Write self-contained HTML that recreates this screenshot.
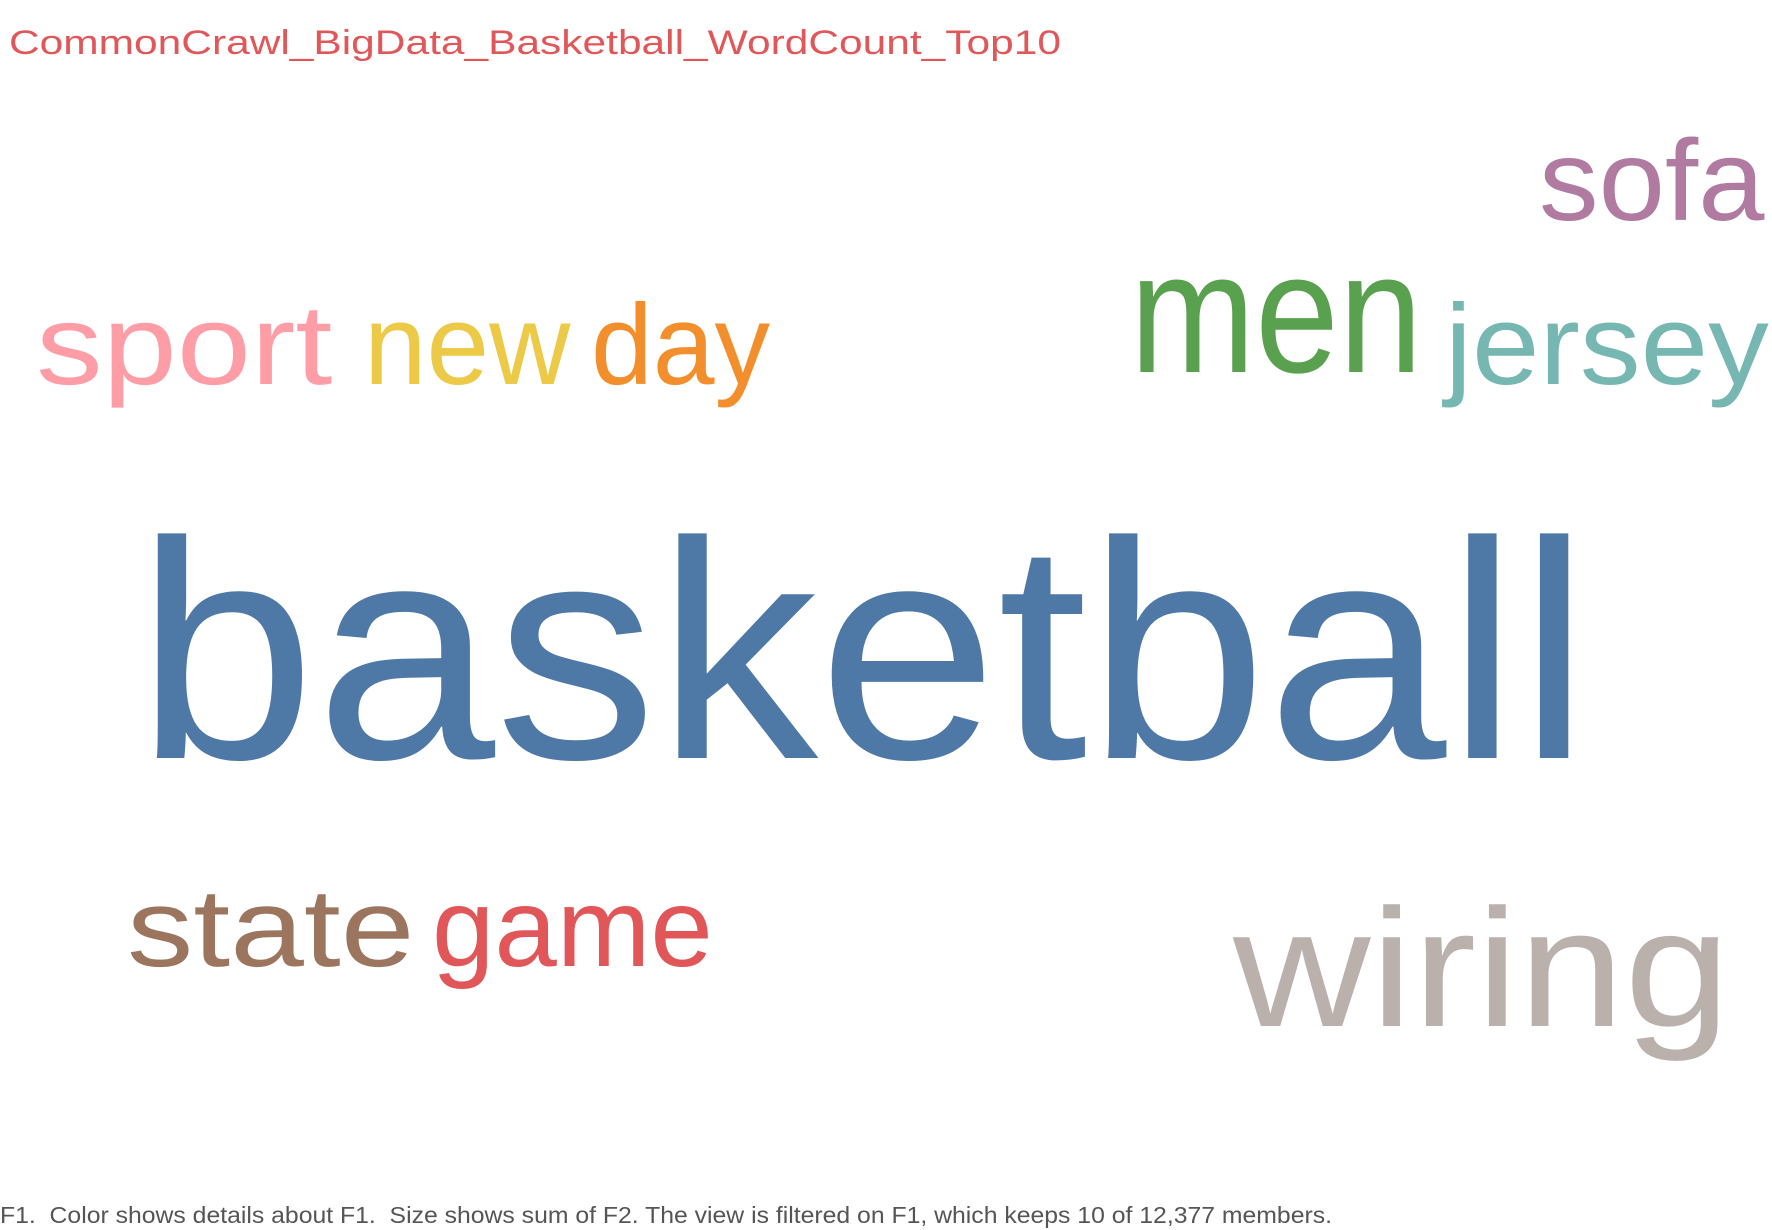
<!DOCTYPE html>
<html><head><meta charset="utf-8"><style>
html,body{margin:0;padding:0;background:#fff;}
svg{display:block;}
text{font-family:"Liberation Sans",sans-serif;}
</style></head><body>
<svg id="chart" width="1772" height="1230" viewBox="0 0 1772 1230" xmlns="http://www.w3.org/2000/svg">
<text x="9" y="54" font-size="34" fill="#e15759" textLength="1052" lengthAdjust="spacingAndGlyphs">CommonCrawl_BigData_Basketball_WordCount_Top10</text>
<g id="words"></g>
<text x="0" y="1223" font-size="23" fill="#555" style="white-space:pre" textLength="1332" lengthAdjust="spacingAndGlyphs">F1.  Color shows details about F1.  Size shows sum of F2. The view is filtered on F1, which keeps 10 of 12,377 members.</text>
</svg>
<script>
// data
const words = ["basketball","men","wiring","sofa","jersey","sport","new","day","state","game"];
const counts = [3100,1720,1680,1150,1140,1140,1140,1140,1110,1110];
const colors = ["#4e79a7","#59a14f","#bab0ac","#b07aa1","#76b7b2","#ff9da7","#edc948","#f28e2b","#9c755f","#e15759"];
// layout (placement of each word: x-left, baseline, width-per-font-size ratio)
const layoutX = [136,1130,1233,1539,1445,36,364,591,127,432];
const layoutY = [758,372,1026,220,384,384,384,384,966,966];
const widthRatio = [4.69,1.70,2.96,1.96,2.84,2.60,1.81,1.57,2.59,2.53];
function sizeScale(v){ return v/10; }
const g = document.getElementById('words');
const NS = "http://www.w3.org/2000/svg";
words.forEach((w,i)=>{
  const fs = sizeScale(counts[i]);
  const t = document.createElementNS(NS,'text');
  
  
  t.setAttribute('x', layoutX[i]);
  t.setAttribute('y', layoutY[i]);
  t.setAttribute('font-size', fs);
  t.setAttribute('fill', colors[i]);
  t.setAttribute('textLength', (fs*widthRatio[i]).toFixed(1));
  t.setAttribute('lengthAdjust', 'spacingAndGlyphs');
  t.textContent = w;
  g.appendChild(t);
});
</script>
</body></html>
